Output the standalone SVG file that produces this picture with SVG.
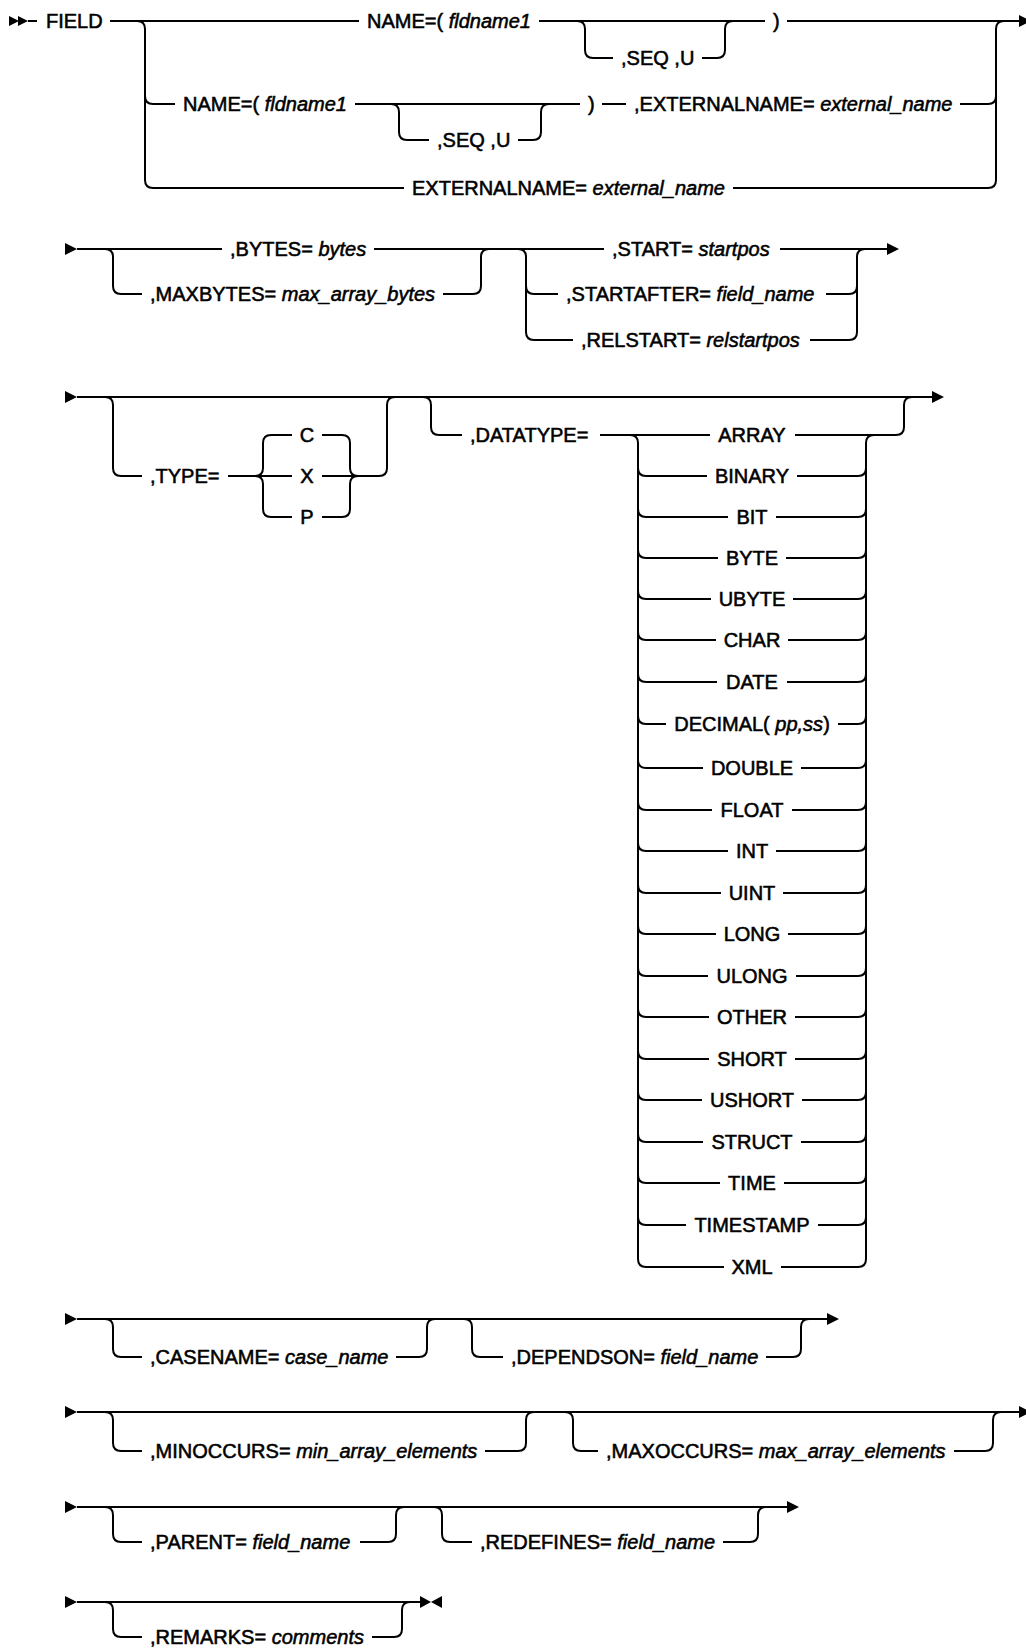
<svg xmlns="http://www.w3.org/2000/svg" xmlns:xlink="http://www.w3.org/1999/xlink" width="1026" height="1649" viewBox="0 0 1026 1649">
<style>
  .ln { fill: none; stroke: #000; stroke-width: 2; }
  .t { font-family: "Liberation Sans", Arial, sans-serif; font-size: 20px; fill: #000; stroke: #000; stroke-width: 0.55; }
  .m { text-anchor: middle; }
  .i { font-style: italic; }
  .ah { fill: #000; stroke: none; }
</style>
<defs>
  <path id="ah" class="ah" d="M0,-6 L12,0 L0,6 Z"/>
  <path id="ah2" class="ah" d="M0,-5 L10,0 L0,5 Z"/>
  <path id="ahr" class="ah" d="M0,-6 L11,0 L0,6 Z"/>
  <path id="ahl" class="ah" d="M0,-6 L-11,0 L0,6 Z"/>
</defs>
<rect width="1026" height="1649" fill="#fff"/>

<g id="connectors">
  <!-- Row A -->
  <use href="#ah2" x="9" y="21"/>
  <use href="#ah2" x="18" y="21"/>
  <path class="ln" d="M28,21 H37"/>
  <path class="ln" d="M110,21 H359"/>
  <path class="ln" d="M137,21 Q145,21 145,29 V180 Q145,188 153,188 H404"/>
  <path class="ln" d="M145,96 Q145,104 153,104 H175"/>
  <path class="ln" d="M539,21 H765"/>
  <path class="ln" d="M577,21 Q585,21 585,29 V50 Q585,58 593,58 H613"/>
  <path class="ln" d="M702,58 H717 Q725,58 725,50 V29 Q725,21 733,21"/>
  <path class="ln" d="M787,21 H1019"/>
  <use href="#ah" x="1019" y="21"/>
  <path class="ln" d="M733,188 H988 Q996,188 996,180 V29 Q996,21 1004,21"/>
  <path class="ln" d="M960,104 H988 Q996,104 996,96"/>
  <path class="ln" d="M355,104 H580"/>
  <path class="ln" d="M391,104 Q399,104 399,112 V132 Q399,140 407,140 H429"/>
  <path class="ln" d="M518,140 H533 Q541,140 541,132 V112 Q541,104 549,104"/>
  <path class="ln" d="M602,104 H626"/>

  <!-- Row B -->
  <use href="#ah" x="65" y="249"/>
  <path class="ln" d="M77,249 H222"/>
  <path class="ln" d="M374,249 H604"/>
  <path class="ln" d="M780,249 H887"/>
  <use href="#ah" x="887" y="249"/>
  <path class="ln" d="M105,249 Q113,249 113,257 V286 Q113,294 121,294 H142"/>
  <path class="ln" d="M443,294 H473 Q481,294 481,286 V257 Q481,249 489,249"/>
  <path class="ln" d="M518,249 Q526,249 526,257 V332 Q526,340 534,340 H573"/>
  <path class="ln" d="M526,286 Q526,294 534,294 H558"/>
  <path class="ln" d="M826,294 H849 Q857,294 857,286"/>
  <path class="ln" d="M810,340 H849 Q857,340 857,332 V257 Q857,249 865,249"/>

  <!-- Row C -->
  <use href="#ah" x="65" y="397"/>
  <path class="ln" d="M77,397 H932"/>
  <use href="#ah" x="932" y="397"/>
  <path class="ln" d="M105,397 Q113,397 113,405 V468 Q113,476 121,476 H142"/>
  <path class="ln" d="M228,476 H292"/>
  <path class="ln" d="M292,435 H271 Q263,435 263,443 V468 Q263,476 255,476"/>
  <path class="ln" d="M255,476 Q263,476 263,484 V509 Q263,517 271,517 H292"/>
  <path class="ln" d="M322,435 H342 Q350,435 350,443 V468 Q350,476 358,476"/>
  <path class="ln" d="M322,517 H342 Q350,517 350,509 V484 Q350,476 358,476"/>
  <path class="ln" d="M322,476 H379 Q387,476 387,468 V405 Q387,397 395,397"/>
  <path class="ln" d="M423,397 Q431,397 431,405 V427 Q431,435 439,435 H462"/>
  <path class="ln" d="M600,435 H710"/>
  <path class="ln" d="M795,435 H896 Q904,435 904,427 V405 Q904,397 912,397"/>
  <path class="ln" d="M630,435 Q638,435 638,443 V1259 Q638,1267 646,1267 H724"/>
  <path class="ln" d="M781,1267 H858 Q866,1267 866,1259 V443 Q866,435 874,435"/>
  <path class="ln" d="M638,468 Q638,476 646,476 H707 M797,476 H858 Q866,476 866,468"/>
  <path class="ln" d="M638,509 Q638,517 646,517 H728 M776,517 H858 Q866,517 866,509"/>
  <path class="ln" d="M638,550 Q638,558 646,558 H718 M786,558 H858 Q866,558 866,550"/>
  <path class="ln" d="M638,591 Q638,599 646,599 H711 M793,599 H858 Q866,599 866,591"/>
  <path class="ln" d="M638,632 Q638,640 646,640 H716 M788,640 H858 Q866,640 866,632"/>
  <path class="ln" d="M638,674 Q638,682 646,682 H717 M787,682 H858 Q866,682 866,674"/>
  <path class="ln" d="M638,716 Q638,724 646,724 H666 M838,724 H858 Q866,724 866,716"/>
  <path class="ln" d="M638,760 Q638,768 646,768 H703 M801,768 H858 Q866,768 866,760"/>
  <path class="ln" d="M638,802 Q638,810 646,810 H712 M792,810 H858 Q866,810 866,802"/>
  <path class="ln" d="M638,843 Q638,851 646,851 H728 M776,851 H858 Q866,851 866,843"/>
  <path class="ln" d="M638,885 Q638,893 646,893 H721 M783,893 H858 Q866,893 866,885"/>
  <path class="ln" d="M638,926 Q638,934 646,934 H716 M788,934 H858 Q866,934 866,926"/>
  <path class="ln" d="M638,968 Q638,976 646,976 H708 M796,976 H858 Q866,976 866,968"/>
  <path class="ln" d="M638,1009 Q638,1017 646,1017 H709 M795,1017 H858 Q866,1017 866,1009"/>
  <path class="ln" d="M638,1051 Q638,1059 646,1059 H709 M795,1059 H858 Q866,1059 866,1051"/>
  <path class="ln" d="M638,1092 Q638,1100 646,1100 H702 M802,1100 H858 Q866,1100 866,1092"/>
  <path class="ln" d="M638,1134 Q638,1142 646,1142 H703 M801,1142 H858 Q866,1142 866,1134"/>
  <path class="ln" d="M638,1175 Q638,1183 646,1183 H720 M784,1183 H858 Q866,1183 866,1175"/>
  <path class="ln" d="M638,1217 Q638,1225 646,1225 H686 M818,1225 H858 Q866,1225 866,1217"/>

  <!-- Row D -->
  <use href="#ah" x="65" y="1319"/>
  <path class="ln" d="M77,1319 H827"/>
  <use href="#ah" x="827" y="1319"/>
  <path class="ln" d="M105,1319 Q113,1319 113,1327 V1349 Q113,1357 121,1357 H142"/>
  <path class="ln" d="M396,1357 H419 Q427,1357 427,1349 V1327 Q427,1319 435,1319"/>
  <path class="ln" d="M464,1319 Q472,1319 472,1327 V1349 Q472,1357 480,1357 H503"/>
  <path class="ln" d="M766,1357 H793 Q801,1357 801,1349 V1327 Q801,1319 809,1319"/>

  <!-- Row E -->
  <use href="#ah" x="65" y="1412"/>
  <path class="ln" d="M77,1412 H1019"/>
  <use href="#ah" x="1019" y="1412"/>
  <path class="ln" d="M105,1412 Q113,1412 113,1420 V1443 Q113,1451 121,1451 H142"/>
  <path class="ln" d="M485,1451 H518 Q526,1451 526,1443 V1420 Q526,1412 534,1412"/>
  <path class="ln" d="M565,1412 Q573,1412 573,1420 V1443 Q573,1451 581,1451 H598"/>
  <path class="ln" d="M954,1451 H985 Q993,1451 993,1443 V1420 Q993,1412 1001,1412"/>

  <!-- Row F -->
  <use href="#ah" x="65" y="1507"/>
  <path class="ln" d="M77,1507 H787"/>
  <use href="#ah" x="787" y="1507"/>
  <path class="ln" d="M105,1507 Q113,1507 113,1515 V1534 Q113,1542 121,1542 H142"/>
  <path class="ln" d="M360,1542 H388 Q396,1542 396,1534 V1515 Q396,1507 404,1507"/>
  <path class="ln" d="M434,1507 Q442,1507 442,1515 V1534 Q442,1542 450,1542 H472"/>
  <path class="ln" d="M723,1542 H750 Q758,1542 758,1534 V1515 Q758,1507 766,1507"/>

  <!-- Row G -->
  <use href="#ah" x="65" y="1602"/>
  <path class="ln" d="M77,1602 H420"/>
  <use href="#ahr" x="420" y="1602"/>
  <use href="#ahl" x="442" y="1602"/>
  <path class="ln" d="M105,1602 Q113,1602 113,1610 V1629 Q113,1637 121,1637 H142"/>
  <path class="ln" d="M372,1637 H394 Q402,1637 402,1629 V1610 Q402,1602 410,1602"/>
</g>

<g id="n-field"><text class="t" x="46" y="28">FIELD</text></g>
<g id="n-name1"><text class="t" x="367" y="28">NAME=( <tspan class="i">fldname1</tspan></text></g>
<g id="n-seq1"><text class="t" x="621" y="65">,SEQ ,U</text></g>
<g id="n-close1"><text class="t" x="773" y="28">)</text></g>
<g id="n-name2"><text class="t" x="183" y="111">NAME=( <tspan class="i">fldname1</tspan></text></g>
<g id="n-seq2"><text class="t" x="437" y="147">,SEQ ,U</text></g>
<g id="n-close2"><text class="t" x="588" y="111">)</text></g>
<g id="n-extname2"><text class="t" x="634" y="111">,EXTERNALNAME= <tspan class="i">external_name</tspan></text></g>
<g id="n-extname3"><text class="t" x="412" y="195">EXTERNALNAME= <tspan class="i">external_name</tspan></text></g>

<g id="n-bytes"><text class="t" x="230" y="256">,BYTES= <tspan class="i">bytes</tspan></text></g>
<g id="n-maxbytes"><text class="t" x="150" y="301">,MAXBYTES= <tspan class="i">max_array_bytes</tspan></text></g>
<g id="n-start"><text class="t" x="612" y="256">,START= <tspan class="i">startpos</tspan></text></g>
<g id="n-startafter"><text class="t" x="566" y="301">,STARTAFTER= <tspan class="i">field_name</tspan></text></g>
<g id="n-relstart"><text class="t" x="581" y="347">,RELSTART= <tspan class="i">relstartpos</tspan></text></g>

<g id="n-type"><text class="t" x="150" y="483">,TYPE=</text></g>
<g id="n-c"><text class="t m" x="307" y="442">C</text></g>
<g id="n-x"><text class="t m" x="307" y="483">X</text></g>
<g id="n-p"><text class="t m" x="307" y="524">P</text></g>
<g id="n-datatype"><text class="t" x="470" y="442">,DATATYPE=</text></g>
<g id="n-array"><text class="t m" x="752" y="442">ARRAY</text></g>
<g id="n-binary"><text class="t m" x="752" y="483">BINARY</text></g>
<g id="n-bit"><text class="t m" x="752" y="524">BIT</text></g>
<g id="n-byte"><text class="t m" x="752" y="565">BYTE</text></g>
<g id="n-ubyte"><text class="t m" x="752" y="606">UBYTE</text></g>
<g id="n-char"><text class="t m" x="752" y="647">CHAR</text></g>
<g id="n-date"><text class="t m" x="752" y="689">DATE</text></g>
<g id="n-decimal"><text class="t m" x="752" y="731">DECIMAL( <tspan class="i">pp,ss</tspan>)</text></g>
<g id="n-double"><text class="t m" x="752" y="775">DOUBLE</text></g>
<g id="n-float"><text class="t m" x="752" y="817">FLOAT</text></g>
<g id="n-int"><text class="t m" x="752" y="858">INT</text></g>
<g id="n-uint"><text class="t m" x="752" y="900">UINT</text></g>
<g id="n-long"><text class="t m" x="752" y="941">LONG</text></g>
<g id="n-ulong"><text class="t m" x="752" y="983">ULONG</text></g>
<g id="n-other"><text class="t m" x="752" y="1024">OTHER</text></g>
<g id="n-short"><text class="t m" x="752" y="1066">SHORT</text></g>
<g id="n-ushort"><text class="t m" x="752" y="1107">USHORT</text></g>
<g id="n-struct"><text class="t m" x="752" y="1149">STRUCT</text></g>
<g id="n-time"><text class="t m" x="752" y="1190">TIME</text></g>
<g id="n-timestamp"><text class="t m" x="752" y="1232">TIMESTAMP</text></g>
<g id="n-xml"><text class="t m" x="752" y="1274">XML</text></g>

<g id="n-casename"><text class="t" x="150" y="1364">,CASENAME= <tspan class="i">case_name</tspan></text></g>
<g id="n-dependson"><text class="t" x="511" y="1364">,DEPENDSON= <tspan class="i">field_name</tspan></text></g>
<g id="n-minoccurs"><text class="t" x="150" y="1458">,MINOCCURS= <tspan class="i">min_array_elements</tspan></text></g>
<g id="n-maxoccurs"><text class="t" x="606" y="1458">,MAXOCCURS= <tspan class="i">max_array_elements</tspan></text></g>
<g id="n-parent"><text class="t" x="150" y="1549">,PARENT= <tspan class="i">field_name</tspan></text></g>
<g id="n-redefines"><text class="t" x="480" y="1549">,REDEFINES= <tspan class="i">field_name</tspan></text></g>
<g id="n-remarks"><text class="t" x="150" y="1644">,REMARKS= <tspan class="i">comments</tspan></text></g>
</svg>
